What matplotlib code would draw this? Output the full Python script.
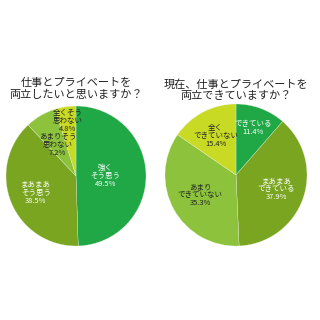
import matplotlib
matplotlib.use("Agg")
import matplotlib.pyplot as plt
import numpy as np

plt.rcParams['font.family'] = ['Noto Sans CJK JP', 'DejaVu Sans']

# 左: 両立したいか
left_title = "仕事とプライベートを\n両立したいと思いますか？"
left_labels = ["強く\nそう思う", "まあまあ\nそう思う", "あまりそう\n思わない", "全くそう\n思わない"]
left_values = [49.5, 38.5, 7.2, 4.8]

# 右: 両立できているか
right_title = "現在、仕事とプライベートを\n両立できていますか？"
right_labels = ["できている", "まあまあ\nできている", "あまり\nできていない", "全く\nできていない"]
right_values = [11.4, 37.9, 35.3, 15.4]

colors = ['#1fa845', '#7aa521', '#8dc33c', '#c9da25']
text_colors = ['white', 'white', '#222222', '#222222']


def draw_pie(rect, values, labels, dists, title, title_y):
    ax = fig.add_axes(rect)
    wedges, _ = ax.pie(values, colors=colors, startangle=90, counterclock=False,
                       wedgeprops=dict(linewidth=0.2, edgecolor='#eef4e0'))
    for w, lab, v, d, tc in zip(wedges, labels, values, dists, text_colors):
        ang = np.deg2rad((w.theta1 + w.theta2) / 2)
        ax.text(d * np.cos(ang), d * np.sin(ang), f"{lab}\n{v:.1f}%",
                ha='center', va='center', fontsize=5.4, color=tc, linespacing=1.0)
    ax.set_xlim(-1, 1)
    ax.set_ylim(-1, 1)
    ax.set_aspect('equal')
    ax.axis('off')
    cx = rect[0] + rect[2] / 2
    fig.text(cx, title_y, title, ha='center', va='center', fontsize=8,
             color='#222222', linespacing=1.15)


fig = plt.figure(figsize=(3.2, 3.2), dpi=100)
fig.patch.set_facecolor('white')

draw_pie([6 / 320, 74 / 320, 140 / 320, 140 / 320], left_values, left_labels,
         [0.42, 0.62, 0.52, 0.8], left_title, 1 - 89 / 320)
draw_pie([165 / 320, 74 / 320, 142 / 320, 142 / 320], right_values, right_labels,
         [0.7, 0.6, 0.58, 0.62], right_title, 1 - 90 / 320)

fig.savefig("out.png", dpi=100, facecolor='white')
